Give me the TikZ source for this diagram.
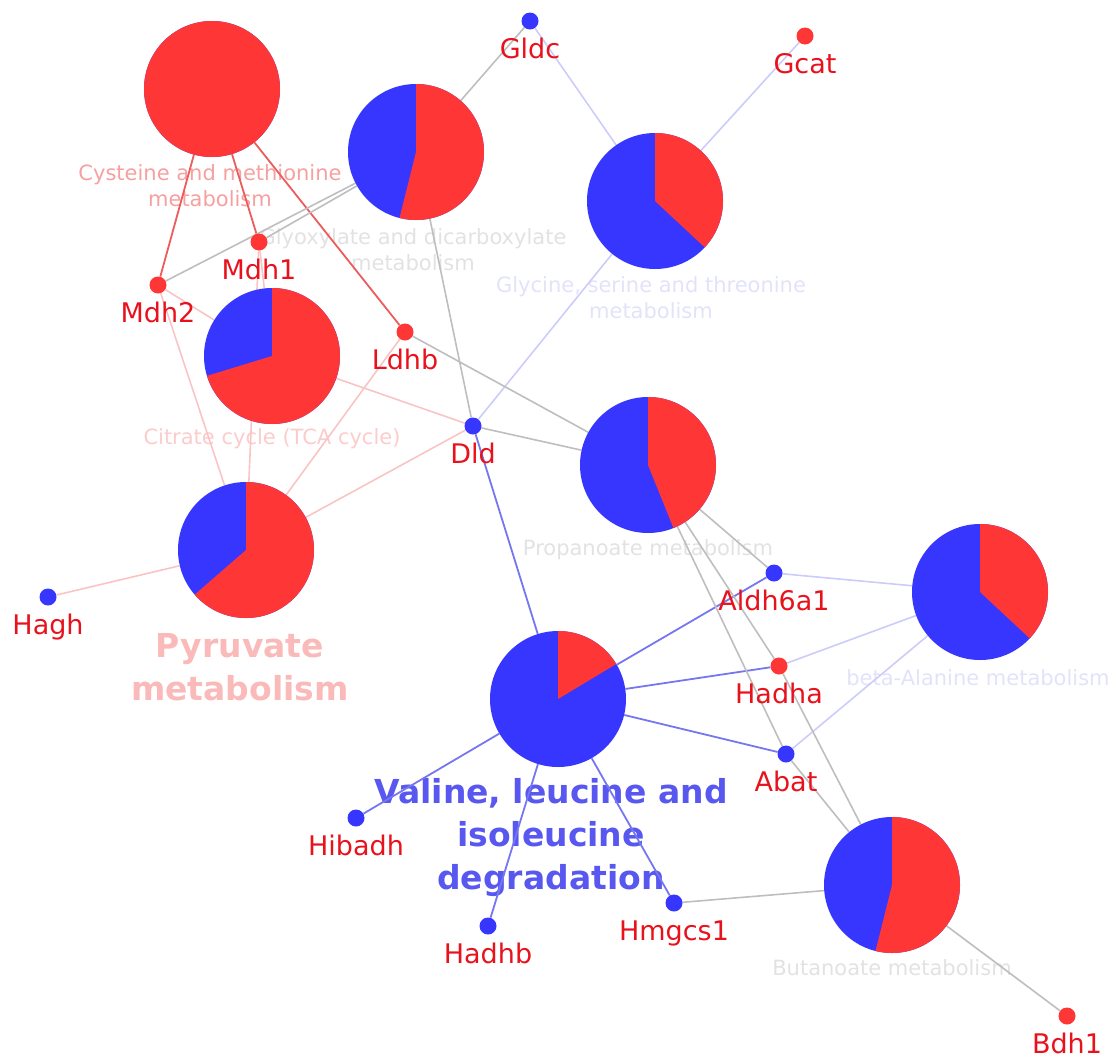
\documentclass[tikz,border=0pt]{standalone}
\usepackage{fontspec}
\setmainfont{DejaVu Sans}
\usepackage{tikz}
\definecolor{pred}{RGB}{255,54,54}
\definecolor{pblue}{RGB}{54,54,255}
\definecolor{genered}{RGB}{232,18,28}
\definecolor{cysline}{RGB}{236,92,92}
\definecolor{pinkline}{RGB}{249,196,196}
\definecolor{valline}{RGB}{118,118,240}
\definecolor{lavline}{RGB}{204,204,250}
\definecolor{grayline}{RGB}{190,190,190}
\definecolor{cystext}{RGB}{246,160,160}
\definecolor{pinktext}{RGB}{251,204,204}
\definecolor{pyrtext}{RGB}{250,186,186}
\definecolor{graytext}{RGB}{226,226,226}
\definecolor{lavtext}{RGB}{226,226,251}
\definecolor{valtext}{RGB}{88,88,240}
\tikzstyle{gene} = [circle, minimum size=17pt, inner sep=0pt]
\tikzstyle{pathway} = [circle, minimum size=136pt, inner sep=0pt]
\tikzset{genelbl/.style={text=genered, font=\fontsize{27}{30}\selectfont,
    inner sep=0pt, text height=20pt, text depth=6pt, yshift=-9pt}}
\tikzset{pwlbl/.style={font=\fontsize{21}{26}\selectfont, align=center, inner sep=0pt},
    bigpwlbl/.style={font=\fontsize{33}{43}\selectfont\bfseries, align=center, inner sep=0pt}}
\tikzset{cysedge/.style={cysline, line width=1.8pt},
    pinkedge/.style={pinkline, line width=1.6pt},
    valedge/.style={valline, line width=1.8pt},
    lavedge/.style={lavline, line width=1.6pt},
    grayedge/.style={grayline, line width=1.6pt}}
% pie node: name, position, angle where the red part ends
\newcommand{\pwpie}[3]{%
    \node[pathway] (#1) at (#2) {};
    \fill[pblue] (#1.center) circle[radius=68pt];
    \fill[pred] (#1.center) -- ++(90:68pt)
        arc[start angle=90, end angle=#3, radius=68pt] -- cycle;}
\pgfdeclarelayer{lbl}
\pgfdeclarelayer{edge}
\pgfsetlayers{lbl,edge,main}

\begin{document}
\begin{tikzpicture}[x=1pt,y=-1pt]
\useasboundingbox (0,0) rectangle (1120,1061);
    %pathways
    \pwpie{cys}{212,89}{-270}
    \pwpie{glx}{416,152}{-104}
    \pwpie{gsm}{655,201}{-43}
    \pwpie{tca}{272,356}{-163}
    \pwpie{pyr}{246,550}{-139}
    \pwpie{pro}{648,465}{-68}
    \pwpie{bal}{980,592}{-43}
    \pwpie{vli}{558,699}{31}
    \pwpie{but}{892,885}{-104}
    %genes
    \node[gene, fill=pblue, label={[genelbl]below:Gldc}] (gldc) at (530,21) {};
    \node[gene, fill=pred, label={[genelbl]below:Gcat}] (gcat) at (805,36) {};
    \node[gene, fill=pred, label={[genelbl]below:Mdh1}] (mdh1) at (259,242) {};
    \node[gene, fill=pred, label={[genelbl]below:Mdh2}] (mdh2) at (158,285) {};
    \node[gene, fill=pred, label={[genelbl]below:Ldhb}] (ldhb) at (405,332) {};
    \node[gene, fill=pblue, label={[genelbl]below:Dld}] (dld) at (473,426) {};
    \node[gene, fill=pblue, label={[genelbl]below:Hagh}] (hagh) at (48,597) {};
    \node[gene, fill=pblue, label={[genelbl]below:Aldh6a1}] (aldh) at (774,573) {};
    \node[gene, fill=pred, label={[genelbl]below:Hadha}] (hadha) at (779,666) {};
    \node[gene, fill=pblue, label={[genelbl]below:Abat}] (abat) at (786,754) {};
    \node[gene, fill=pblue, label={[genelbl]below:Hibadh}] (hibadh) at (356,818) {};
    \node[gene, fill=pblue, label={[genelbl]below:Hadhb}] (hadhb) at (488,926) {};
    \node[gene, fill=pblue, label={[genelbl]below:Hmgcs1}] (hmgcs) at (674,903) {};
    \node[gene, fill=pred, label={[genelbl]below:Bdh1}] (bdh) at (1067,1016) {};
    %labels
    \begin{pgfonlayer}{lbl}
    \node[pwlbl, text=cystext] (cyslbl) at (210,186) {Cysteine and methionine\\metabolism};
    \node[pwlbl, text=graytext] (glxlbl) at (413,250) {Glyoxylate and dicarboxylate\\metabolism};
    \node[pwlbl, text=lavtext] (gsmlbl) at (651,298) {Glycine, serine and threonine\\metabolism};
    \node[pwlbl, text=pinktext] (tcalbl) at (272,439) {Citrate cycle (TCA cycle)};
    \node[bigpwlbl, text=pyrtext] (pyrlbl) at (240,667) {Pyruvate\\metabolism};
    \node[pwlbl, text=graytext] (prolbl) at (648,550) {Propanoate metabolism};
    \node[pwlbl, text=lavtext] (ballbl) at (978,678) {beta-Alanine metabolism};
    \node[bigpwlbl, text=valtext] (vlilbl) at (551,838) {Valine, leucine and\\isoleucine\\degradation};
    \node[pwlbl, text=graytext] (butlbl) at (892,968) {Butanoate metabolism};
    \end{pgfonlayer}
    %edges
    \begin{pgfonlayer}{edge}
    \foreach \g in {mdh1,mdh2,ldhb} \draw[cysedge] (cys) -- (\g);
    \foreach \g in {mdh1,mdh2,dld} \draw[pinkedge] (tca) -- (\g);
    \foreach \g in {mdh1,mdh2,ldhb,dld,hagh} \draw[pinkedge] (pyr) -- (\g);
    \foreach \g in {gldc,gcat,dld} \draw[lavedge] (gsm) -- (\g);
    \foreach \g in {aldh,hadha,abat} \draw[lavedge] (bal) -- (\g);
    \foreach \g in {dld,aldh,hadha,abat,hibadh,hadhb,hmgcs} \draw[valedge] (vli) -- (\g);
    \foreach \g in {gldc,mdh1,mdh2,dld} \draw[grayedge] (glx) -- (\g);
    \foreach \g in {ldhb,dld,aldh,hadha,abat} \draw[grayedge] (pro) -- (\g);
    \foreach \g in {abat,hadha,hmgcs,bdh} \draw[grayedge] (but) -- (\g);
    \end{pgfonlayer}
\end{tikzpicture}
\end{document}
